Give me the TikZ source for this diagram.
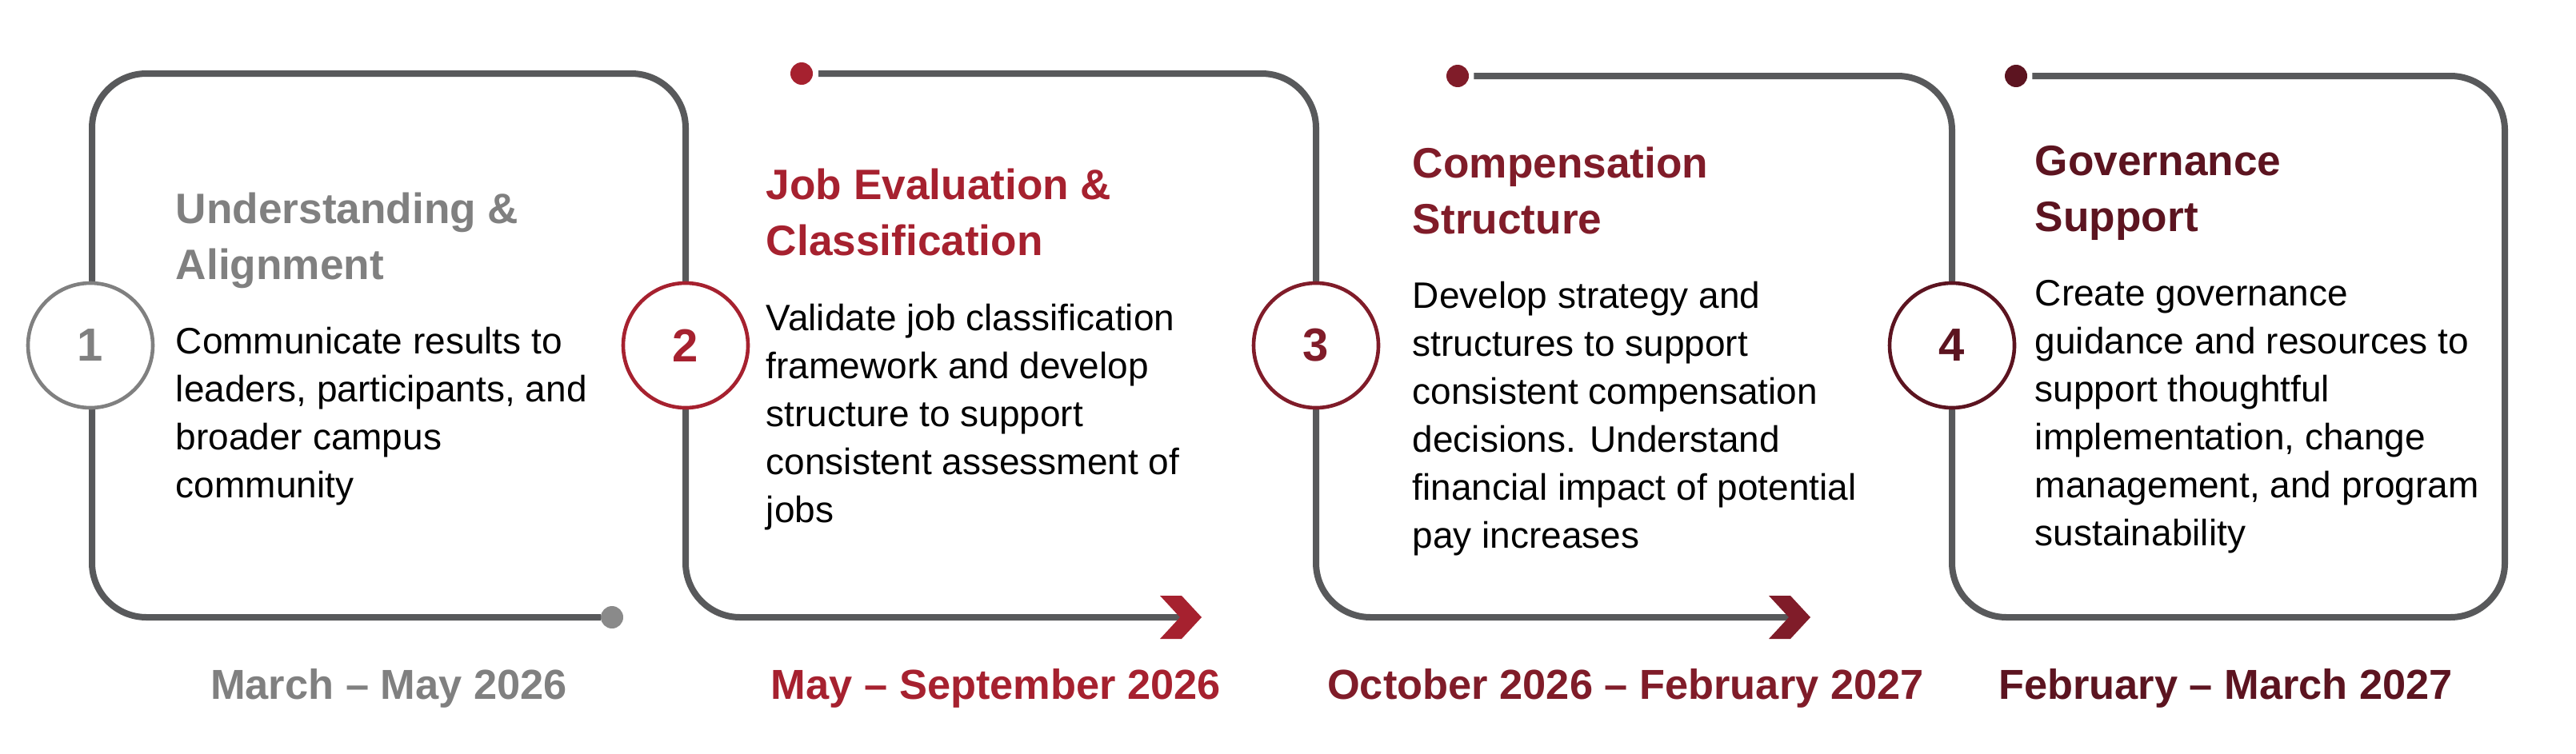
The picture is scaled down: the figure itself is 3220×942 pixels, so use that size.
\documentclass[tikz,border=0pt]{standalone}
\usepackage{fontspec}
\setmainfont{Liberation Sans}
\definecolor{lineg}{HTML}{58595B}
\definecolor{cone}{HTML}{808080}
\definecolor{conedot}{HTML}{8A8A8A}
\definecolor{ctwo}{HTML}{A6212F}
\definecolor{cthree}{HTML}{801C29}
\definecolor{cfour}{HTML}{5C1420}
\begin{document}
\begin{tikzpicture}[x=0.25pt,y=-0.25pt,
  boxline/.style={draw=lineg, line width=2pt, rounded corners=17pt},
  numcirc/.style={circle, draw=#1, text=#1, fill=white, line width=1.15pt, minimum size=39pt, inner sep=0pt, font=\fontsize{14.5pt}{16pt}\selectfont\bfseries},
  enddot/.style={circle, fill=#1, minimum size=7pt, inner sep=0pt, outer sep=0pt},
  titletext/.style={anchor=base west, inner sep=0pt, text=#1, font=\fontsize{13.3pt}{17.5pt}\selectfont\bfseries},
  bodytext/.style={anchor=base west, inner sep=0pt, text=black, font=\fontsize{11.5pt}{15pt}\selectfont},
  datetext/.style={anchor=base, inner sep=0pt, text=#1, font=\fontsize{13.1pt}{16pt}\selectfont\bfseries},
]
\useasboundingbox (0,0) rectangle (3220,942);

% end dots and arrow notches
\node[enddot=conedot] (d1) at (765,772) {};
\node[enddot=ctwo] (d2) at (1002,92) {};
\node[enddot=cthree] (d3) at (1822,95) {};
\node[enddot=cfour] (d4) at (2520,95) {};
\coordinate (a2) at (1475,772);
\coordinate (a3) at (2236,772);

% serpentine lines
\draw[boxline] (d1.west) -- (115,772) -- (115,92) -- (857,92) -- (857,772) -- (a2);
\draw[boxline] ([xshift=1.75pt]d2.east) -- (1645,92) -- (1645,772) -- (a3);
\draw[boxline] ([xshift=1.6pt]d3.east) -- (2440,95) -- (2440,772) -- (3131,772) -- (3131,95) -- ([xshift=1.6pt]d4.east);

% chevrons
\fill[ctwo] ([shift={(-25,-27)}]a2) -- ([shift={(2,-27)}]a2) -- ([shift={(27,0)}]a2) -- ([shift={(2,27)}]a2) -- ([shift={(-25,27)}]a2) -- (a2) -- cycle;
\fill[cthree] ([shift={(-25,-27)}]a3) -- ([shift={(2,-27)}]a3) -- ([shift={(27,0)}]a3) -- ([shift={(2,27)}]a3) -- ([shift={(-25,27)}]a3) -- (a3) -- cycle;

% number circles
\node[numcirc=cone] (n1) at (113,432) {1};
\node[numcirc=ctwo] (n2) at (857,432) {2};
\node[numcirc=cthree] (n3) at (1645,432) {3};
\node[numcirc=cfour] (n4) at (2440,432) {4};

% titles
\node[titletext=cone] (t1) at (219,279) {\vtop{\hbox{Understanding \&}\hbox{Alignment}}};
\node[titletext=ctwo] (t2) at (957,249) {\vtop{\hbox{Job Evaluation \&}\hbox{Classification}}};
\node[titletext=cthree] (t3) at (1765,222) {\vtop{\hbox{Compensation}\hbox{Structure}}};
\node[titletext=cfour] (t4) at (2543,219) {\vtop{\hbox{Governance}\hbox{Support}}};

% bodies
\node[bodytext] (b1) at (219,442) {\vtop{\hbox{Communicate results to}\hbox{leaders, participants, and}\hbox{broader campus}\hbox{community}}};
\node[bodytext] (b2) at (957,413) {\vtop{\hbox{Validate job classification}\hbox{framework and develop}\hbox{structure to support}\hbox{consistent assessment of}\hbox{jobs}}};
\node[bodytext] (b3) at (1765,385) {\vtop{\hbox{Develop strategy and}\hbox{structures to support}\hbox{consistent compensation}\hbox{decisions. Understand}\hbox{financial impact of potential}\hbox{pay increases}}};
\node[bodytext] (b4) at (2543,382) {\vtop{\hbox{Create governance}\hbox{guidance and resources to}\hbox{support thoughtful}\hbox{implementation, change}\hbox{management, and program}\hbox{sustainability}}};

% dates
\node[datetext=cone] (m1) at (486,874) {March – May 2026};
\node[datetext=ctwo] (m2) at (1245,874) {May – September 2026};
\node[datetext=cthree] (m3) at (2032,874) {October 2026 – February 2027};
\node[datetext=cfour] (m4) at (2782,874) {February – March 2027};
\end{tikzpicture}
\end{document}
